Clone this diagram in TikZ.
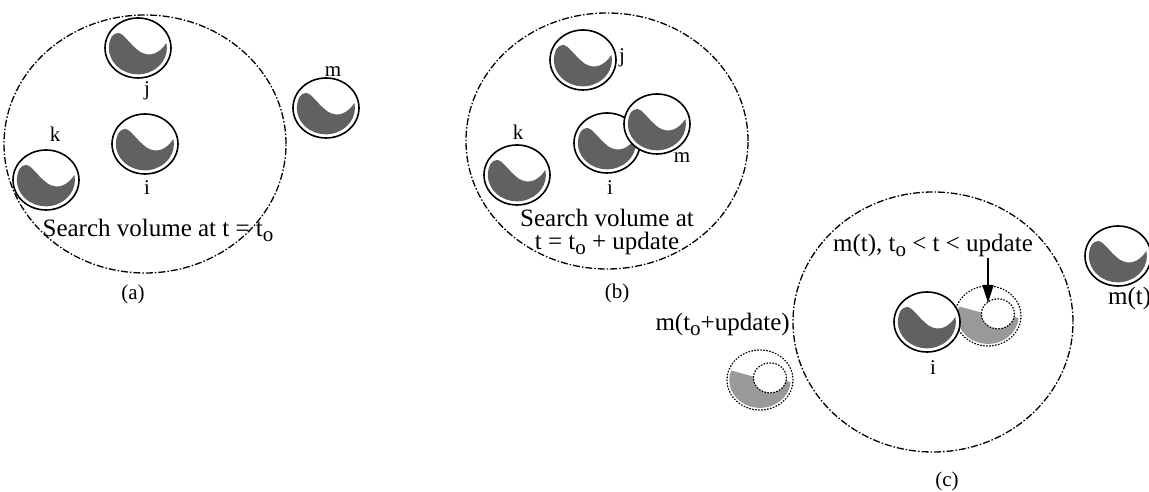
\documentclass[tikz,border=0pt]{standalone}
\usepackage{fontspec}
\setmainfont{Liberation Serif}
\usetikzlibrary{arrows.meta}

% lowered subscript "o" as set in the labels
\newcommand\lowo{\raisebox{-5pt}{\fontsize{21}{21}\selectfont o}}

\tikzset{
  every node/.style={inner sep=0pt, font=\fontsize{21}{24}\selectfont},
  caption/.style={font=\fontsize{25}{28}\selectfont},
  volume/.style={line width=1.3pt, dash pattern=on 7pt off 2pt on 1.5pt off 2pt},
  outline/.style={line width=1.6pt},
  ghostline/.style={line width=1.3pt, dash pattern=on 0.8pt off 2.2pt, line cap=round},
  bodyfill/.style={fill=black!62},
  faintfill/.style={fill=black!40},
  pointer/.style={line width=1.8pt, -{Triangle[length=18pt, width=11pt]}},
  % solid ball with its dark crescent
  sphere/.pic={
    \begin{scope}[xscale=33, yscale=30]
      \fill[white] (0,0) circle[radius=1];
      \fill[bodyfill] (-0.6,0.5) .. controls (-0.42,0.48) and (-0.28,0.15) .. (0.05,-0.12)
        .. controls (0.35,-0.32) and (0.64,-0.2) .. (0.86,0.17)
        arc[start angle=11, end angle=-205, radius=0.88]
        .. controls (-0.74,0.46) and (-0.68,0.5) .. (-0.6,0.5) -- cycle;
      \draw[outline] (0,0) circle[radius=1];
    \end{scope}
  },
  % dotted ball: position at another time
  ghost/.pic={
    \begin{scope}[xscale=33, yscale=30]
      \fill[faintfill] (-0.2,0.114) arc[start angle=175, end angle=350, radius=0.5]
        -- (0.926,-0.081) arc[start angle=-5, end angle=-200, radius=0.93] -- cycle;
      \draw[ghostline] (0,0) circle[radius=1];
      \draw[ghostline] (0.3,0.07) circle[radius=0.5];
    \end{scope}
  }
}

\begin{document}
\begin{tikzpicture}[x=1pt, y=1pt]
\useasboundingbox (0,0) rectangle (1149,492);

% ---------- (a) ----------
\draw[volume] (145,348) ellipse[x radius=141, y radius=129];
\pic (aj) at (138,444) {sphere};
\pic (ai) at (145,348) {sphere};
\pic (ak) at (46,312) {sphere};
\pic (am) at (326,384) {sphere};
\node[anchor=base] (laj) at (147,396) {j};
\node[anchor=base] (lai) at (147,297) {i};
\node[anchor=base] (lak) at (55,350) {k};
\node[anchor=base] (lam) at (333,415) {m};
\node[caption, anchor=base] (capA) at (158,255) {Search volume at t = t\lowo};
\node[anchor=base] (tagA) at (133,192) {(a)};

% ---------- (b) ----------
\draw[volume] (607,351) ellipse[x radius=141, y radius=128];
\pic (bj) at (583,432) {sphere};
\pic (bk) at (517,317) {sphere};
\pic (bi) at (607,349) {sphere};
\pic (bm) at (657,368) {sphere};
\node[anchor=base] (lbj) at (622,429) {j};
\node[anchor=base] (lbk) at (518,352) {k};
\node[anchor=base] (lbi) at (610,297) {i};
\node[anchor=base] (lbm) at (682,329) {m};
\node[caption, anchor=base] (capB1) at (607,265) {Search volume at};
\node[caption, anchor=base] (capB2) at (607,242) {t = t\lowo{} + update};
\node[anchor=base] (tagB) at (617,193) {(b)};

% ---------- (c) ----------
\draw[volume] (933,170) ellipse[x radius=140, y radius=130];
\pic (cg) at (988,176) {ghost};
\pic (ci) at (927,170) {sphere};
\pic (cm) at (1118,236) {sphere};
\pic (cu) at (760,112) {ghost};
\node[anchor=base] (lci) at (933,117) {i};
\node[caption, anchor=base] (capC) at (933,240) {m(t), t\lowo{} < t < update};
\node[caption, anchor=base west] (lcm) at (1108,187) {m(t)};
\node[caption, anchor=base east] (lcu) at (790,161) {m(t\lowo+update)};
\node[anchor=base] (tagC) at (947,5) {(c)};
\coordinate (tip) at (988,189);
\draw[pointer] (capC.south -| tip) -- (tip);
\end{tikzpicture}
\end{document}
